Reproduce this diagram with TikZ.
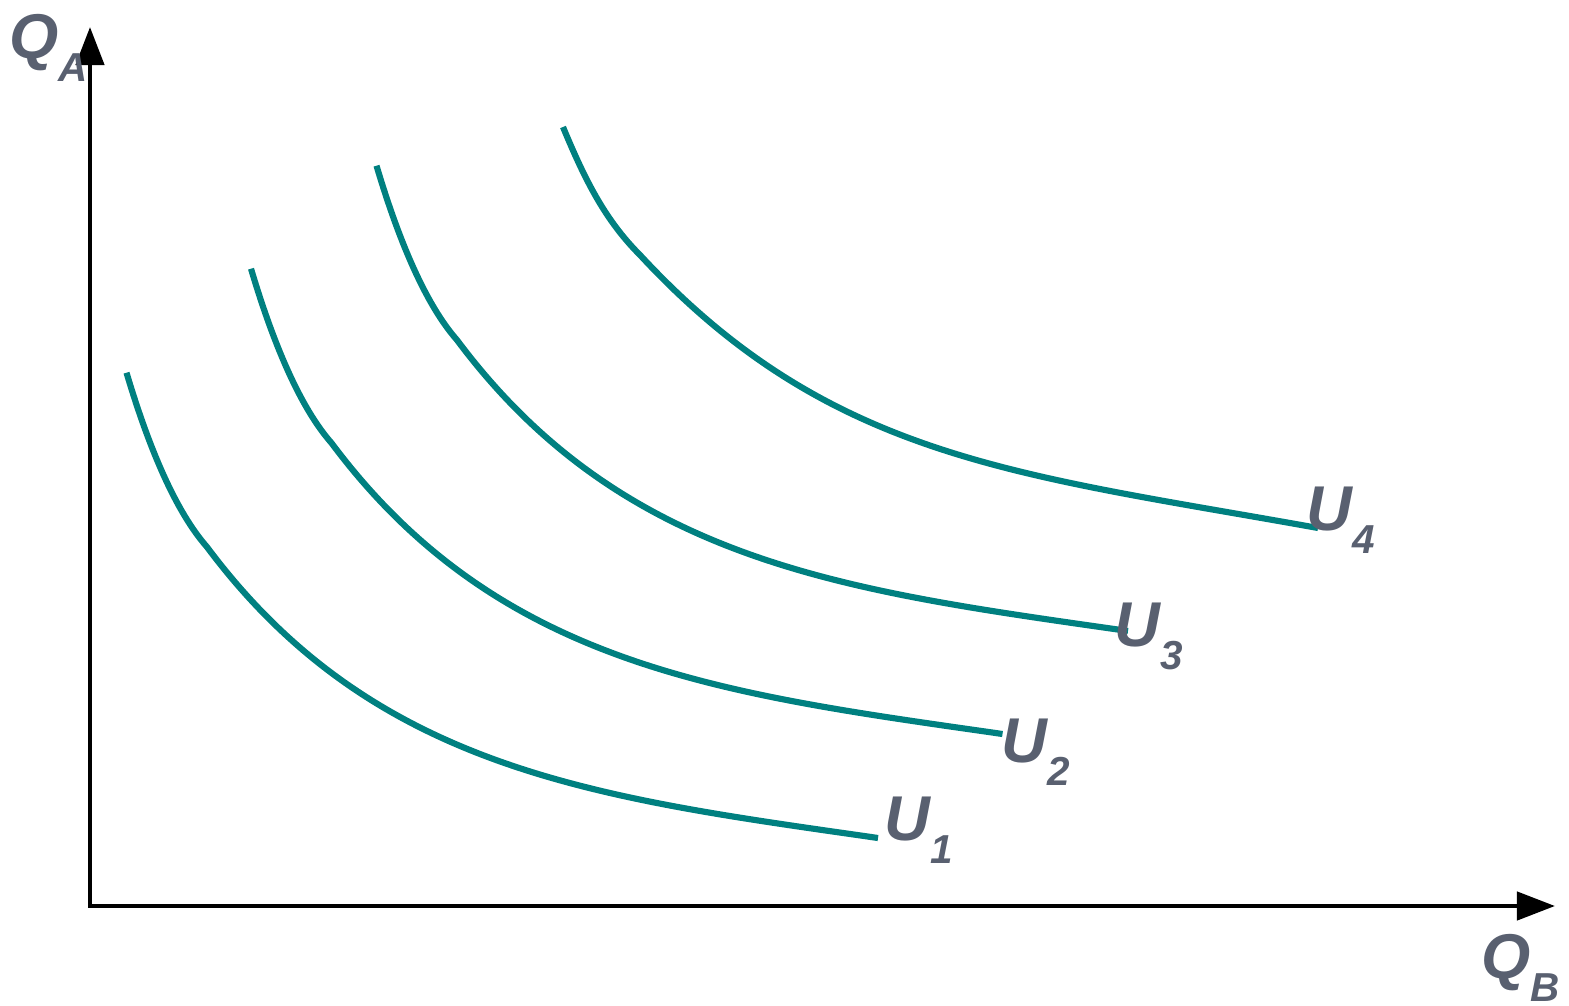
\documentclass[tikz,border=0pt]{standalone}
\usepackage{fontspec}
\setmainfont{Liberation Sans}
\usetikzlibrary{arrows.meta}
\definecolor{curveteal}{RGB}{0,128,128}
\definecolor{labelgray}{RGB}{89,96,112}
\tikzset{
  axisline/.style={line width=1.25pt,
                   {Triangle[length=3.8mm,width=2.8mm]}-{Triangle[length=3.8mm,width=2.8mm]}},
  icurve/.style={draw=curveteal, line width=1.75pt},
  lbl/.style={text=labelgray, font=\fontsize{18}{18}\selectfont\bfseries\itshape,
              inner sep=0pt, anchor=base west},
}
\newcommand{\lsub}[1]{\lower0.23cm\hbox{\fontsize{11.5}{11.5}\selectfont #1}}

\begin{document}
\begin{tikzpicture}[x=0.01cm, y=-0.01cm]
\useasboundingbox (0,0) rectangle (1569,1006);
% axes
\coordinate (O) at (90,906);
\coordinate (qa) at (90,27);
\coordinate (qb) at (1555,906);
\draw[axisline] (qa) -- (O) -- (qb);

% indifference curves U1, U2, U3 (same shape, shifted)
\foreach \dx/\dy in {0/0, 124.5/-104, 250/-207}
  \draw[icurve, shift={(\dx,\dy)}] (126.5,372.7) .. controls (143,428) and (170,505) .. (207,547)
    .. controls (375,772) and (600,798) .. (878,838);

% indifference curve U4
\draw[icurve] (563,127) .. controls (585,180) and (605,220) .. (640,255)
  .. controls (830,460) and (1018,474) .. (1318,528);

% labels
\node[lbl] (u1) at (884,840) {U\lsub{1}};
\node[lbl] (u2) at (1001,762) {U\lsub{2}};
\node[lbl] (u3) at (1114,646) {U\lsub{3}};
\node[lbl] (u4) at (1306,530) {U\lsub{4}};
\node[lbl] (qalbl) at (9,58) {Q\lsub{A}};
\node[lbl] (qblbl) at (1481,978) {Q\lsub{B}};
\end{tikzpicture}
\end{document}
